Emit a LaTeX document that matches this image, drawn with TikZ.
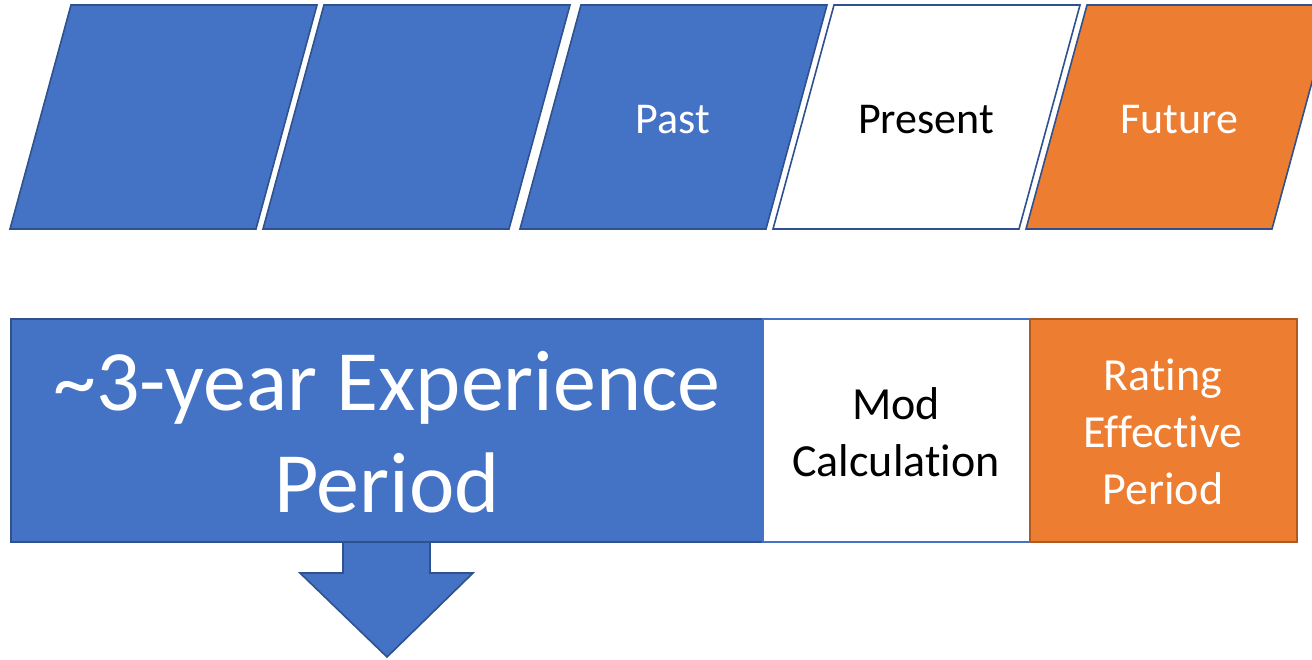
\documentclass[tikz,border=0pt]{standalone}
\usepackage{fontspec}
\setmainfont{Carlito}[Ligatures=NoCommon]
\definecolor{accblue}{HTML}{4472C4}
\definecolor{edgeblue}{HTML}{2F528F}
\definecolor{accorange}{HTML}{ED7D31}
\definecolor{edgeorange}{HTML}{AE5A21}
\tikzset{
  pgblue/.style={fill=accblue, draw=edgeblue, line width=1.6pt, line join=miter},
  pgwhite/.style={fill=white, draw=edgeblue, line width=1.6pt},
  pgorange/.style={fill=accorange, draw=edgeblue, line width=1.6pt},
  lbl/.style={font=\fontsize{44}{53}\selectfont, align=center, inner sep=0pt},
  biglbl/.style={font=\fontsize{86}{102}\selectfont, align=center, inner sep=0pt, text=white},
  midlbl/.style={font=\fontsize{46}{57}\selectfont, align=center, inner sep=0pt},
  boxblue/.style={fill=accblue, draw=edgeblue, line width=1.6pt},
  boxwhite/.style={fill=white, draw=accblue, line width=1.2pt},
  boxorange/.style={fill=accorange, draw=edgeorange, line width=1.6pt},
}
\begin{document}
\begin{tikzpicture}[x=1pt, y=-1pt]
\useasboundingbox (0,0) rectangle (1312,659);

% timeline of slanted blocks
\def\slant{61}
\def\pw{246}
\foreach \bx/\st in {10/pgblue, 263/pgblue, 520/pgblue, 773/pgwhite, 1026/pgorange}{
  \path[\st] (\bx,229) -- ++(\pw,0) -- ++(\slant,-224) -- ++(-\pw,0) -- cycle;
}
\node[lbl, text=white] (past) at (673,120) {Past};
\node[lbl, text=black] (present) at (926,120) {Present};
\node[lbl, text=white] (future) at (1179,120) {Future};

% periods
\path[boxblue] (11,319) rectangle (763,542);
\path[boxwhite] (763,319) rectangle (1030,542);
\path[boxorange] (1030,319) rectangle (1297,542);
\coordinate (expS) at (387,542);
\node[biglbl] (exp) at (387,432) {\textasciitilde3-year Experience\\Period};
\node[midlbl, text=black] (mod) at (896,432) {Mod\\Calculation};
\node[midlbl, text=white] (rate) at (1163,432) {Rating\\Effective\\Period};

% downward block arrow
\path[pgblue] ([xshift=-44pt]expS) -- ([xshift=43pt]expS) -- ++(0,31) -- ++(43,0)
  -- (387,657) -- (300,573) -- ([xshift=-44pt]expS |- 0,573) -- cycle;
\end{tikzpicture}
\end{document}
